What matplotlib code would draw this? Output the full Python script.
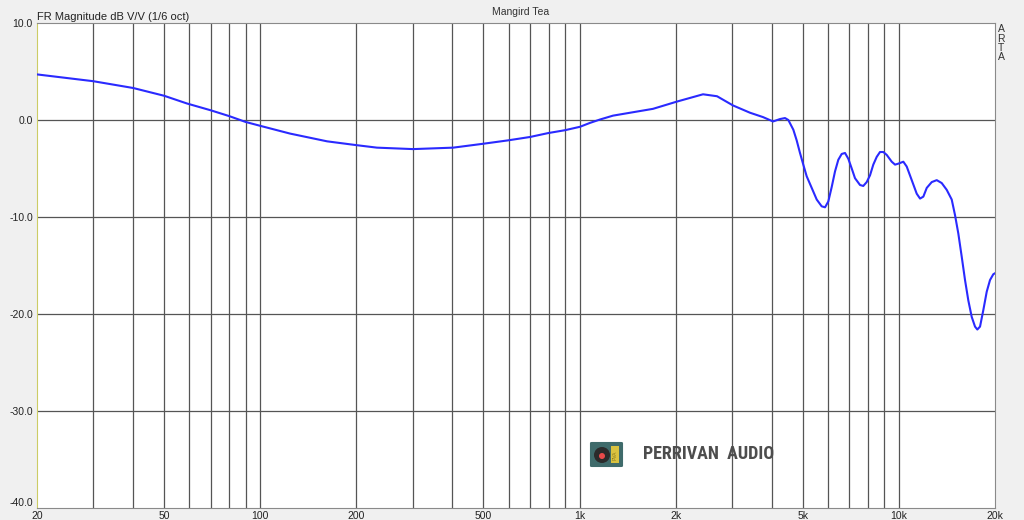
import numpy as np
import matplotlib.pyplot as plt
from matplotlib.patches import FancyBboxPatch, Ellipse, Rectangle

# Frequency response (Hz, dB)
freq = [20, 30, 40, 50, 59, 70, 80, 90, 100, 124, 162, 201, 232, 301,
        402, 499, 597, 700, 797, 901, 1003, 1078, 1159, 1273, 1470, 1698,
        2019, 2436, 2695, 3024, 3418, 3754, 4036, 4246, 4400, 4506, 4672,
        4786, 4902, 5020, 5144, 5334, 5530, 5732, 5872, 6012, 6162, 6310,
        6462, 6622, 6782, 6946, 7118, 7288, 7556, 7736, 7930, 8122, 8316,
        8524, 8728, 8940, 9162, 9498, 9728, 9962, 10328, 10582, 10972, 11374,
        11650, 11930, 12226, 12674, 13140, 13620, 14120, 14638, 14990, 15352,
        15734, 16112, 16500, 16910, 17316, 17606, 17954, 18384, 18842, 19294,
        19758, 20000]
mag = [4.7, 4.0, 3.3, 2.5, 1.7, 1.0, 0.4, -0.2, -0.6, -1.4, -2.2, -2.6,
       -2.85, -3.0, -2.85, -2.45, -2.1, -1.75, -1.35, -1.05, -0.7, -0.3, 0.05,
       0.45, 0.8, 1.15, 1.9, 2.65, 2.45, 1.5, 0.75, 0.3, -0.15, 0.1, 0.2, 0.0,
       -1.0, -2.1, -3.4, -4.6, -5.8, -7.0, -8.2, -8.9, -9.0, -8.4, -6.9, -5.3,
       -4.1, -3.5, -3.4, -4.0, -5.0, -6.0, -6.7, -6.8, -6.4, -5.7, -4.6,
       -3.8, -3.3, -3.3, -3.6, -4.3, -4.6, -4.5, -4.3, -4.8, -6.2, -7.6,
       -8.1, -7.9, -7.0, -6.4, -6.2, -6.5, -7.2, -8.2, -9.8, -11.7, -14.1,
       -16.5, -18.6, -20.3, -21.3, -21.6, -21.3, -19.6, -17.7, -16.5, -15.9,
       -15.8]

xgrid = [30, 40, 50, 60, 70, 80, 90, 100, 200, 300, 400, 500, 600, 700, 800,
         900, 1000, 2000, 3000, 4000, 5000, 6000, 7000, 8000, 9000, 10000]
xticks = [20, 50, 100, 200, 500, 1000, 2000, 5000, 10000, 20000]
xticklabels = ['20', '50', '100', '200', '500', '1k', '2k', '5k', '10k', '20k']
yticks = [10, 0, -10, -20, -30, -40]
yticklabels = ['10.0', '0.0', '-10.0', '-20.0', '-30.0', '-40.0']

plt.rcParams['font.family'] = ['Liberation Sans', 'DejaVu Sans']

fig = plt.figure(figsize=(10.24, 5.2), dpi=100, facecolor='#f0f0f0')
ax = fig.add_axes([37 / 1024, 12 / 520, 958 / 1024, 485 / 520])
ax.set_facecolor('white')

for f in xgrid:
    ax.axvline(f, color='#555555', lw=0.9, zorder=1)
for y in yticks[1:-1]:
    ax.axhline(y, color='#555555', lw=0.9, zorder=1)

ax.plot(freq, mag, color='#2a2aff', lw=1.5, zorder=3)

ax.set_xscale('log')
ax.set_xlim(20, 20000)
ax.set_ylim(-40, 10)
ax.set_xticks(xticks)
ax.set_xticklabels(xticklabels)
ax.xaxis.set_minor_locator(plt.NullLocator())
ax.set_yticks(yticks)
ax.set_yticklabels(yticklabels)
ax.tick_params(length=0, labelsize=7.5, colors='#222222', pad=3)
ax.tick_params(axis='x', pad=2)
ax.get_yticklabels()[-1].set_va('bottom')

for side in ['top', 'right', 'bottom']:
    ax.spines[side].set_color('#8a8a8a')
ax.spines['left'].set_color('#cccc66')

fig.text(37 / 1024, 1 - 20 / 520, 'FR Magnitude dB V/V (1/6 oct)',
         fontsize=8, color='#222222')
fig.text(521 / 1024, 1 - 12 / 520, 'Mangird Tea', fontsize=7.5,
         color='#333333', ha='center', va='center')
for i, ch in enumerate('ARTA'):
    fig.text(1001 / 1024, 1 - (29 + i * 9.5) / 520, ch, fontsize=7.5,
             color='#333333', ha='center', va='center')

# watermark logo
W, H = 1024, 520
fig.patches.append(FancyBboxPatch((592 / W, 1 - 466 / H), 29 / W, 23 / H,
                                  boxstyle='round,pad=0.002',
                                  transform=fig.transFigure,
                                  facecolor='#3f6b6b', edgecolor='none'))
fig.patches.append(Ellipse((602 / W, 1 - 455 / H), 16 / W, 16 / H,
                           transform=fig.transFigure,
                           facecolor='#2b2b2b', edgecolor='none'))
fig.patches.append(Ellipse((602 / W, 1 - 456 / H), 6 / W, 6 / H,
                           transform=fig.transFigure,
                           facecolor='#e84a4a', edgecolor='none'))
fig.patches.append(Rectangle((611 / W, 1 - 463 / H), 8 / W, 17 / H,
                             transform=fig.transFigure,
                             facecolor='#d9c23f', edgecolor='none'))
fig.text(615 / W, 1 - 455 / H, 'PVA', fontsize=3.5, rotation=90,
         color='#8a7a20', ha='center', va='center')
fig.text(643 / W, 1 - 454 / H, 'PERRIVAN  AUDIO', fontsize=13,
         family=['Roboto Condensed', 'Roboto', 'DejaVu Sans'],
         fontweight='bold', color='#4d4d4d', va='center', ha='left')

fig.savefig('out.png', dpi=100, facecolor=fig.get_facecolor())
